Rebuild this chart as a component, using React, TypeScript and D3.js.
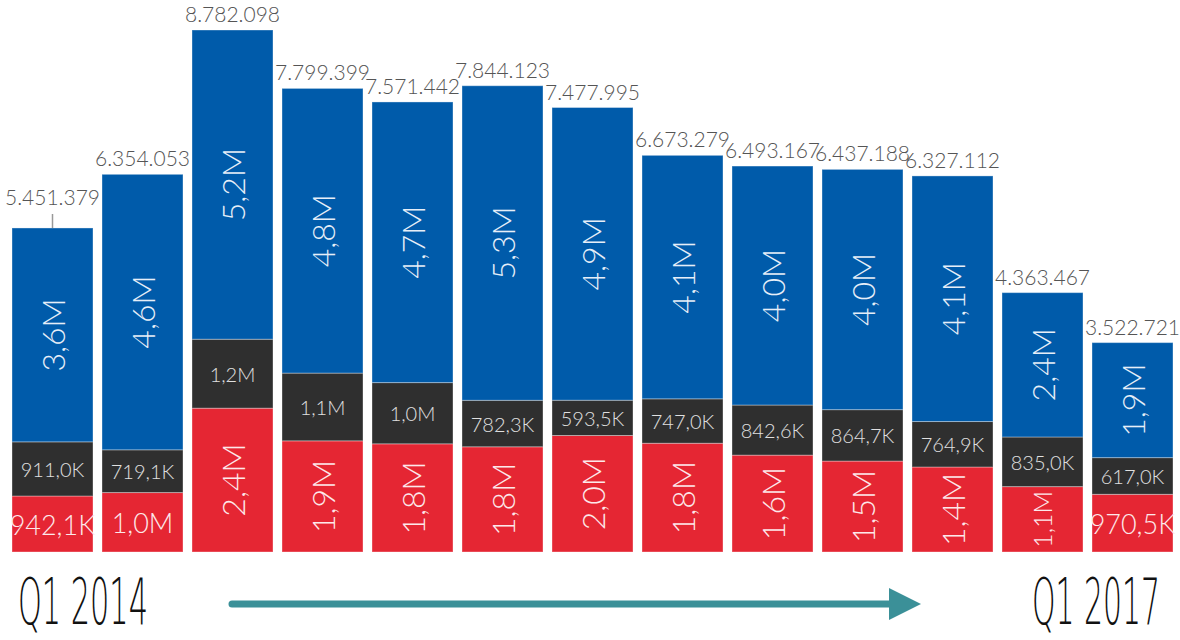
import React, { useLayoutEffect, useRef, useState } from 'react'
import * as d3 from 'd3'

// quarters, Q1 2014 .. Q1 2017
const quarters = ['Q1 2014', 'Q2 2014', 'Q3 2014', 'Q4 2014', 'Q1 2015', 'Q2 2015', 'Q3 2015', 'Q4 2015',
    'Q1 2016', 'Q2 2016', 'Q3 2016', 'Q4 2016', 'Q1 2017']

const redValues = [942100, 1000000, 2420000, 1870000, 1820000, 1770000, 1960000, 1830000, 1630000, 1530000, 1430000, 1100000, 970500]
const darkValues = [911000, 719100, 1160000, 1140000, 1030000, 782300, 593500, 747000, 842600, 864700, 764900, 835000, 617000]
const blueValues = [3598279, 4634953, 5202098, 4789399, 4721442, 5291823, 4924495, 4096279, 4020567, 4042488, 4132212, 2428467, 1935221]
const totals = [5451379, 6354053, 8782098, 7799399, 7571442, 7844123, 7477995, 6673279, 6493167, 6437188, 6327112, 4363467, 3522721]

const startLabel = 'Q1 2014'
const endLabel = 'Q1 2017'

const W = 1180
const H = 640

const keys = ['red', 'dark', 'blue'] as const
const colors: Record<string, string> = { red: '#e52633', dark: '#2f2f2f', blue: '#005baa' }
const textColors: Record<string, string> = { red: '#fde8ea', dark: '#e0e0e0', blue: '#e6eef8' }

const fmtShort = (v: number) => {
    if (v >= 1e6) return (v / 1e6).toFixed(1).replace('.', ',') + 'M'
    return (v / 1e3).toFixed(1).replace('.', ',') + 'K'
}
const fmtTotal = (v: number) => d3.format(',')(v).replace(/,/g, '.')

const condensed = '"DejaVu Sans ExtraLight", "DejaVu Sans", sans-serif'

// squeeze a text horizontally so it spans exactly `width`
function Squeezed(props: { x: number, y: number, width: number, text: string }) {
    const ref = useRef<SVGTextElement>(null)
    const [k, setK] = useState(1)
    useLayoutEffect(() => {
        const w = ref.current?.getComputedTextLength() ?? 0
        if (w > 0) setK(props.width / w)
    }, [props.width, props.text])
    return (
        <text ref={ref} x={0} y={0} transform={`translate(${props.x},${props.y}) scale(${k},1)`}
            fontFamily={condensed} fontWeight={200} fontSize={64} fill='#111'>{props.text}</text>
    )
}

export default function App() {
    const rows = quarters.map((q, i) => ({ q, red: redValues[i], dark: darkValues[i], blue: blueValues[i] }))
    const stack = d3.stack<any>().keys(keys as any)(rows)

    const x = d3.scaleBand<string>().domain(quarters).range([12, 1173]).paddingInner(0.1).paddingOuter(0)
    const y = d3.scaleLinear().domain([0, d3.max(totals) ?? 0]).range([552, 30])

    const font = '"Lato Light", Lato, "Open Sans", sans-serif'

    return (
        <svg width={W} height={H} style={{ position: 'absolute', left: 0, top: 0, background: '#fff' }}>
            {stack.map(layer => (
                <g key={layer.key}>
                    {layer.map((d, i) => {
                        const x0 = x(quarters[i])!
                        const bw = x.bandwidth()
                        const y0 = y(d[1])
                        const h = y(d[0]) - y(d[1])
                        const v = d[1] - d[0]
                        const cx = x0 + bw / 2
                        const cy = y0 + h / 2
                        const key = layer.key
                        const rotate = key === 'blue' || (key === 'red' && v >= 1050000)
                        const size = key === 'dark' ? 20 : key === 'red' && !rotate ? 27 : Math.min(32, h * 0.38)
                        return (
                            <g key={i}>
                                <rect x={x0} y={y0} width={bw} height={h} fill={colors[key]}
                                    stroke='#ffffff' strokeOpacity={0.35} strokeWidth={1} />
                                <text x={cx} y={cy} textAnchor='middle' dominantBaseline='central'
                                    fontFamily={font} fontWeight={300} fontSize={size} fill={textColors[key]}
                                    transform={rotate ? `rotate(-90 ${cx} ${cy})` : undefined}>
                                    {fmtShort(v)}
                                </text>
                            </g>
                        )
                    })}
                </g>
            ))}

            {/* totals */}
            {totals.map((t, i) => {
                const cx = x(quarters[i])! + x.bandwidth() / 2
                const top = y(t)
                const lifted = i === 0
                const by = lifted ? top - 23 : top - 8
                return (
                    <g key={i}>
                        {lifted && <line x1={cx} x2={cx} y1={top - 14} y2={top} stroke='#999' strokeWidth={1.5} />}
                        <text x={cx} y={by} textAnchor='middle' fontFamily={font} fontWeight={300}
                            fontSize={21} fill='#555'>{fmtTotal(t)}</text>
                    </g>
                )
            })}

            {/* period arrow */}
            <line x1={232} x2={895} y1={604} y2={604} stroke='#3b9098' strokeWidth={7} strokeLinecap='round' />
            <path d='M889,588 L921,604 L889,620 Z' fill='#3b9098' />

            <Squeezed x={18} y={624} width={130} text={startLabel} />
            <Squeezed x={1032} y={624} width={128} text={endLabel} />
        </svg>
    )
}
